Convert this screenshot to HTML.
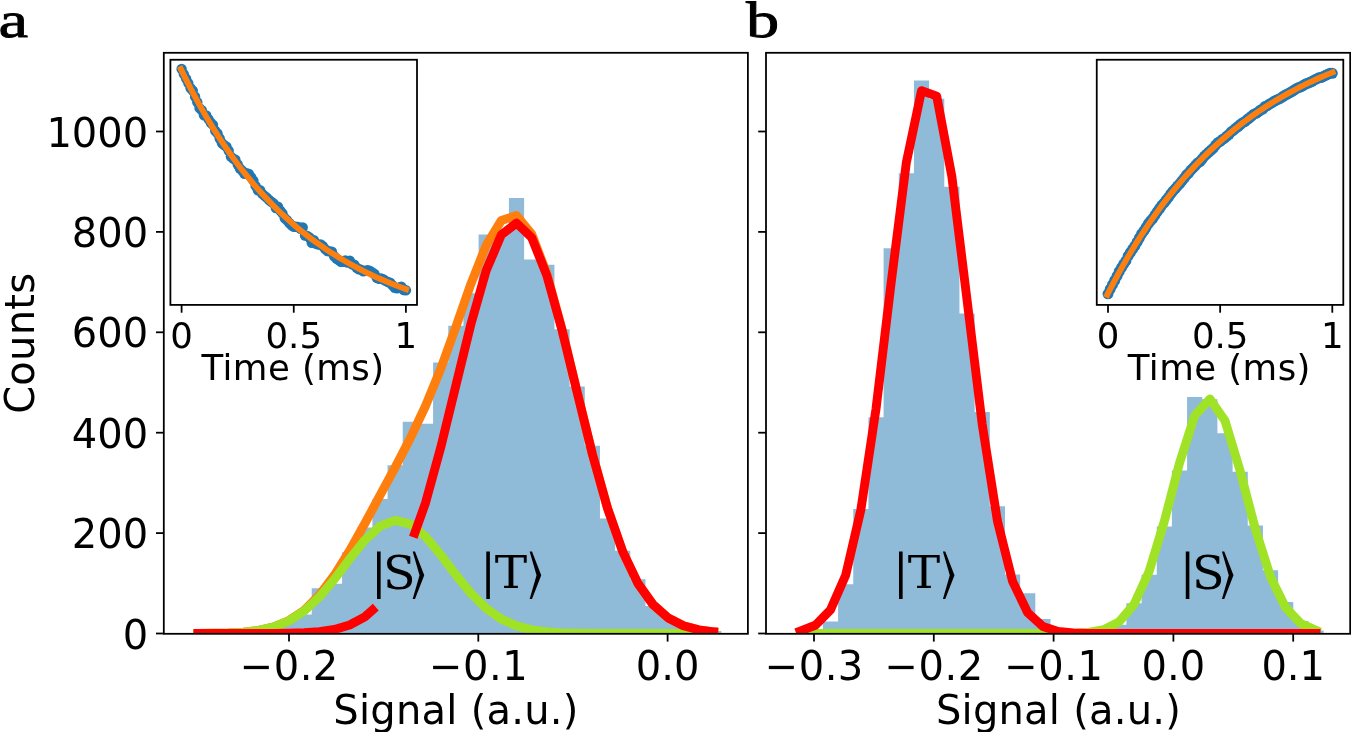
<!DOCTYPE html>
<html lang="en"><head><meta charset="utf-8"><title>Singlet-triplet readout histograms</title>
<style>html,body{margin:0;padding:0;background:#fff;}body{width:1351px;height:732px;overflow:hidden;}svg{display:block;position:absolute;left:0;top:0;will-change:transform;}text{font-family:"DejaVu Sans","Liberation Sans",sans-serif;fill:#000;}.t40{font-size:40px;}.t36{font-size:35.56px;}.ser{font-family:"Liberation Serif","DejaVu Serif",serif;}</style></head><body>
<svg width="1351" height="732" viewBox="0 0 1351 732">
<rect x="0" y="0" width="1351" height="732" fill="#ffffff"/>
<defs>
<clipPath id="ca"><rect x="163.80" y="52.80" width="584.10" height="581.00"/></clipPath>
<clipPath id="cb"><rect x="766.00" y="52.80" width="584.20" height="581.00"/></clipPath>
<clipPath id="cia"><rect x="170.40" y="59.75" width="246.60" height="245.15"/></clipPath>
<clipPath id="cib"><rect x="1096.75" y="59.75" width="246.55" height="245.15"/></clipPath>
</defs>
<g clip-path="url(#ca)">
<path d="M190.35 634.50 L190.35 633.50 L205.52 633.50 L205.52 632.50 L220.69 632.50 L220.69 631.99 L235.86 631.99 L235.86 630.99 L251.03 630.99 L251.03 628.98 L266.20 628.98 L266.20 625.47 L281.38 625.47 L281.38 619.44 L296.55 619.44 L296.55 614.42 L311.72 614.42 L311.72 588.32 L326.89 588.32 L326.89 583.80 L342.06 583.80 L342.06 552.18 L357.23 552.18 L357.23 527.58 L372.40 527.58 L372.40 498.96 L387.57 498.96 L387.57 465.33 L402.74 465.33 L402.74 421.66 L417.91 421.66 L417.91 423.66 L433.09 423.66 L433.09 362.42 L448.26 362.42 L448.26 325.77 L463.43 325.77 L463.43 293.14 L478.60 293.14 L478.60 234.41 L493.77 234.41 L493.77 231.90 L508.94 231.90 L508.94 198.01 L524.11 198.01 L524.11 259.51 L539.28 259.51 L539.28 264.78 L554.45 264.78 L554.45 329.29 L569.62 329.29 L569.62 386.52 L584.80 386.52 L584.80 445.75 L599.97 445.75 L599.97 518.54 L615.14 518.54 L615.14 550.67 L630.31 550.67 L630.31 579.28 L645.48 579.28 L645.48 605.89 L660.65 605.89 L660.65 616.43 L675.82 616.43 L675.82 624.46 L690.99 624.46 L690.99 628.98 L706.16 628.98 L706.16 630.99 L721.34 630.99 L721.34 634.50 Z" fill="#8fbbd9"/>
<path d="M193.49 633.47 L197.94 633.43 L213.11 633.30 L228.28 632.96 L243.45 632.14 L258.62 630.37 L273.79 626.86 L288.96 620.56 L304.13 610.32 L319.30 595.21 L334.47 575.04 L349.65 550.60 L364.82 523.50 L379.99 495.46 L395.16 467.28 L410.33 438.15 L425.50 406.01 L440.67 368.94 L455.84 326.99 L471.01 283.59 L486.18 245.37 L501.36 220.42 L516.53 215.56 L531.70 233.97 L546.87 273.94 L562.04 329.51 L577.21 392.32 L592.38 454.05 L607.55 508.32 L622.72 551.65 L637.89 583.33 L653.07 604.68 L668.24 617.98 L683.41 625.67 L698.58 629.80 L713.75 631.86 L718.16 632.46" fill="none" stroke="#ff7f0e" stroke-width="8.9" stroke-linejoin="round" stroke-linecap="butt"/>
<path d="M193.49 633.47 L197.94 633.43 L213.11 633.30 L228.28 632.96 L243.45 632.16 L258.62 630.41 L273.79 626.97 L288.96 620.86 L304.13 611.07 L319.30 597.01 L334.47 579.07 L349.65 559.06 L364.82 540.15 L379.99 526.17 L395.16 520.36 L410.33 524.14 L425.50 536.58 L440.67 554.75 L455.84 574.83 L471.01 593.42 L486.18 608.40 L501.36 619.08 L516.53 625.91 L531.70 629.84 L546.87 631.88 L562.04 632.84 L577.21 633.26 L592.38 633.42 L607.55 633.47 L622.72 633.49 L637.89 633.50 L653.07 633.50 L668.24 633.50 L683.41 633.50 L698.58 633.50 L713.75 633.50 L718.20 633.50" fill="none" stroke="#9fe226" stroke-width="8.9" stroke-linejoin="round" stroke-linecap="butt"/>
<path d="M193.49 633.50 L197.94 633.50 L213.11 633.50 L228.28 633.50 L243.45 633.49 L258.62 633.46 L273.79 633.39 L288.96 633.20 L304.13 632.75 L319.30 631.70 L334.47 629.47 L349.65 625.04 L364.82 616.85 L375.80 607.20" fill="none" stroke="#ff0000" stroke-width="8.9" stroke-linejoin="round" stroke-linecap="butt"/>
<path d="M413.30 537.30 L425.50 502.93 L440.67 447.69 L455.84 385.66 L471.01 323.67 L486.18 270.48 L501.36 234.83 L516.53 223.15 L531.70 237.64 L546.87 275.56 L562.04 330.17 L577.21 392.57 L592.38 454.13 L607.55 508.35 L622.72 551.65 L637.89 583.33 L653.07 604.68 L668.24 617.98 L683.41 625.67 L698.58 629.80 L713.75 631.86 L718.20 631.86" fill="none" stroke="#ff0000" stroke-width="8.9" stroke-linejoin="round" stroke-linecap="butt"/>
</g>
<g clip-path="url(#cb)">
<path d="M792.55 634.50 L792.55 633.50 L807.72 633.50 L807.72 629.48 L822.90 629.48 L822.90 621.45 L838.07 621.45 L838.07 584.30 L853.25 584.30 L853.25 509.00 L868.42 509.00 L868.42 417.14 L883.59 417.14 L883.59 248.21 L898.77 248.21 L898.77 173.17 L913.94 173.17 L913.94 80.50 L929.12 80.50 L929.12 98.87 L944.29 98.87 L944.29 186.72 L959.46 186.72 L959.46 313.42 L974.64 313.42 L974.64 412.12 L989.81 412.12 L989.81 506.19 L1004.99 506.19 L1004.99 574.51 L1020.16 574.51 L1020.16 593.34 L1035.33 593.34 L1035.33 618.94 L1050.51 618.94 L1050.51 628.98 L1065.68 628.98 L1065.68 631.99 L1080.86 631.99 L1080.86 632.50 L1096.03 632.50 L1096.03 630.49 L1111.20 630.49 L1111.20 624.72 L1126.38 624.72 L1126.38 603.13 L1141.55 603.13 L1141.55 574.77 L1156.73 574.77 L1156.73 526.57 L1171.90 526.57 L1171.90 470.60 L1187.07 470.60 L1187.07 397.06 L1202.25 397.06 L1202.25 399.32 L1217.42 399.32 L1217.42 433.20 L1232.60 433.20 L1232.60 471.86 L1247.77 471.86 L1247.77 525.57 L1262.94 525.57 L1262.94 570.25 L1278.12 570.25 L1278.12 602.12 L1293.29 602.12 L1293.29 620.95 L1308.47 620.95 L1308.47 630.49 L1323.64 630.49 L1323.64 634.50 Z" fill="#8fbbd9"/>
<path d="M795.69 633.50 L800.14 633.50 L815.31 633.50 L830.48 633.50 L845.66 633.50 L860.83 633.50 L876.01 633.50 L891.18 633.50 L906.35 633.50 L921.53 633.50 L936.70 633.50 L951.88 633.50 L967.05 633.50 L982.22 633.50 L997.40 633.50 L1012.57 633.50 L1027.75 633.50 L1042.92 633.49 L1058.10 633.45 L1073.27 633.25 L1088.44 632.45 L1103.62 629.72 L1118.79 622.09 L1133.96 604.48 L1149.14 571.34 L1164.31 521.38 L1179.49 463.21 L1194.66 415.69 L1209.84 398.91 L1225.01 420.74 L1240.18 471.01 L1255.36 529.00 L1270.53 576.91 L1285.70 607.69 L1300.88 623.59 L1316.05 630.30 L1320.12 632.09" fill="none" stroke="#9fe226" stroke-width="8.9" stroke-linejoin="round" stroke-linecap="butt"/>
<path d="M795.98 632.62 L800.14 631.04 L815.31 625.27 L830.48 609.87 L845.66 575.21 L860.83 510.02 L876.01 408.86 L891.18 282.49 L906.35 162.46 L921.53 90.61 L936.70 96.11 L951.88 176.64 L967.05 299.93 L982.22 424.32 L997.40 520.84 L1012.57 581.39 L1027.75 612.80 L1042.92 626.44 L1058.10 631.43 L1073.27 632.98 L1088.44 633.39 L1103.62 633.48 L1118.79 633.50 L1133.96 633.50 L1149.14 633.50 L1164.31 633.50 L1179.49 633.50 L1194.66 633.50 L1209.84 633.50 L1225.01 633.50 L1240.18 633.50 L1255.36 633.50 L1270.53 633.50 L1285.70 633.50 L1300.88 633.50 L1316.05 633.50 L1320.50 633.50" fill="none" stroke="#ff0000" stroke-width="8.9" stroke-linejoin="round" stroke-linecap="butt"/>
</g>
<rect x="170.40" y="59.75" width="246.60" height="245.15" fill="#fff"/>
<g clip-path="url(#cia)">
<g fill="#1f77b4"><circle cx="181.6" cy="69.0" r="5.2"/><circle cx="183.8" cy="74.1" r="5.2"/><circle cx="186.1" cy="78.6" r="5.2"/><circle cx="188.3" cy="83.1" r="5.2"/><circle cx="190.6" cy="88.3" r="5.2"/><circle cx="192.8" cy="90.6" r="5.2"/><circle cx="195.1" cy="96.7" r="5.2"/><circle cx="197.3" cy="102.2" r="5.2"/><circle cx="199.5" cy="108.1" r="5.2"/><circle cx="201.8" cy="110.2" r="5.2"/><circle cx="204.0" cy="115.3" r="5.2"/><circle cx="206.3" cy="115.4" r="5.2"/><circle cx="208.5" cy="119.1" r="5.2"/><circle cx="210.8" cy="122.7" r="5.2"/><circle cx="213.0" cy="124.9" r="5.2"/><circle cx="215.2" cy="130.7" r="5.2"/><circle cx="217.5" cy="133.4" r="5.2"/><circle cx="219.7" cy="138.5" r="5.2"/><circle cx="222.0" cy="143.3" r="5.2"/><circle cx="224.2" cy="145.1" r="5.2"/><circle cx="226.5" cy="146.7" r="5.2"/><circle cx="228.7" cy="150.7" r="5.2"/><circle cx="230.9" cy="156.6" r="5.2"/><circle cx="233.2" cy="158.6" r="5.2"/><circle cx="235.4" cy="159.7" r="5.2"/><circle cx="237.7" cy="164.5" r="5.2"/><circle cx="239.9" cy="168.5" r="5.2"/><circle cx="242.2" cy="170.6" r="5.2"/><circle cx="244.4" cy="173.8" r="5.2"/><circle cx="246.6" cy="173.1" r="5.2"/><circle cx="248.9" cy="173.9" r="5.2"/><circle cx="251.1" cy="177.1" r="5.2"/><circle cx="253.4" cy="180.6" r="5.2"/><circle cx="255.6" cy="185.9" r="5.2"/><circle cx="257.9" cy="190.2" r="5.2"/><circle cx="260.1" cy="190.3" r="5.2"/><circle cx="262.3" cy="193.9" r="5.2"/><circle cx="264.6" cy="195.9" r="5.2"/><circle cx="266.8" cy="197.6" r="5.2"/><circle cx="269.1" cy="200.0" r="5.2"/><circle cx="271.3" cy="201.8" r="5.2"/><circle cx="273.6" cy="203.4" r="5.2"/><circle cx="275.8" cy="208.1" r="5.2"/><circle cx="278.0" cy="206.7" r="5.2"/><circle cx="280.3" cy="210.6" r="5.2"/><circle cx="282.5" cy="213.4" r="5.2"/><circle cx="284.8" cy="218.3" r="5.2"/><circle cx="287.0" cy="220.2" r="5.2"/><circle cx="289.3" cy="223.0" r="5.2"/><circle cx="291.5" cy="225.3" r="5.2"/><circle cx="293.8" cy="226.8" r="5.2"/><circle cx="296.0" cy="226.7" r="5.2"/><circle cx="298.2" cy="226.9" r="5.2"/><circle cx="300.5" cy="228.8" r="5.2"/><circle cx="302.7" cy="227.5" r="5.2"/><circle cx="305.0" cy="235.5" r="5.2"/><circle cx="307.2" cy="235.9" r="5.2"/><circle cx="309.5" cy="237.5" r="5.2"/><circle cx="311.7" cy="242.7" r="5.2"/><circle cx="313.9" cy="240.3" r="5.2"/><circle cx="316.2" cy="243.7" r="5.2"/><circle cx="318.4" cy="244.6" r="5.2"/><circle cx="320.7" cy="244.4" r="5.2"/><circle cx="322.9" cy="246.3" r="5.2"/><circle cx="325.2" cy="249.1" r="5.2"/><circle cx="327.4" cy="251.0" r="5.2"/><circle cx="329.6" cy="251.4" r="5.2"/><circle cx="331.9" cy="251.6" r="5.2"/><circle cx="334.1" cy="256.2" r="5.2"/><circle cx="336.4" cy="258.5" r="5.2"/><circle cx="338.6" cy="260.1" r="5.2"/><circle cx="340.9" cy="261.7" r="5.2"/><circle cx="343.1" cy="261.8" r="5.2"/><circle cx="345.3" cy="260.4" r="5.2"/><circle cx="347.6" cy="262.6" r="5.2"/><circle cx="349.8" cy="260.7" r="5.2"/><circle cx="352.1" cy="264.3" r="5.2"/><circle cx="354.3" cy="264.8" r="5.2"/><circle cx="356.6" cy="267.7" r="5.2"/><circle cx="358.8" cy="269.2" r="5.2"/><circle cx="361.0" cy="269.6" r="5.2"/><circle cx="363.3" cy="271.3" r="5.2"/><circle cx="365.5" cy="270.7" r="5.2"/><circle cx="367.8" cy="270.1" r="5.2"/><circle cx="370.0" cy="270.9" r="5.2"/><circle cx="372.3" cy="272.4" r="5.2"/><circle cx="374.5" cy="274.0" r="5.2"/><circle cx="376.7" cy="277.8" r="5.2"/><circle cx="379.0" cy="278.7" r="5.2"/><circle cx="381.2" cy="278.4" r="5.2"/><circle cx="383.5" cy="279.5" r="5.2"/><circle cx="385.7" cy="280.9" r="5.2"/><circle cx="388.0" cy="282.1" r="5.2"/><circle cx="390.2" cy="282.7" r="5.2"/><circle cx="392.4" cy="285.3" r="5.2"/><circle cx="394.7" cy="287.7" r="5.2"/><circle cx="396.9" cy="288.4" r="5.2"/><circle cx="399.2" cy="287.4" r="5.2"/><circle cx="401.4" cy="286.8" r="5.2"/><circle cx="403.7" cy="290.0" r="5.2"/><circle cx="405.9" cy="290.2" r="5.2"/></g>
<path d="M179.58 66.36 L183.47 74.36 L187.35 82.13 L191.24 89.66 L195.12 96.97 L199.01 104.07 L202.89 110.95 L206.78 117.63 L210.66 124.11 L214.55 130.39 L218.43 136.49 L222.32 142.41 L226.21 148.15 L230.09 153.72 L233.98 159.13 L237.86 164.37 L241.75 169.46 L245.63 174.40 L249.52 179.19 L253.40 183.84 L257.29 188.35 L261.17 192.72 L265.06 196.97 L268.94 201.09 L272.83 205.09 L276.71 208.96 L280.60 212.73 L284.49 216.38 L288.37 219.92 L292.26 223.36 L296.14 226.69 L300.03 229.93 L303.91 233.07 L307.80 236.11 L311.68 239.07 L315.57 241.94 L319.45 244.72 L323.34 247.42 L327.22 250.04 L331.11 252.58 L334.99 255.05 L338.88 257.44 L342.77 259.76 L346.65 262.01 L350.54 264.20 L354.42 266.32 L358.31 268.38 L362.19 270.37 L366.08 272.31 L369.96 274.19 L373.85 276.01 L377.73 277.78 L381.62 279.50 L385.50 281.16 L389.39 282.78 L393.27 284.35 L397.16 285.87 L401.05 287.34 L404.93 288.78 L408.82 290.17" fill="none" stroke="#ff7f0e" stroke-width="5.8" stroke-linejoin="round" stroke-linecap="butt"/>
</g>
<rect x="170.40" y="59.75" width="246.60" height="245.15" fill="none" stroke="#000" stroke-width="1.78"/>
<line x1="181.60" y1="304.90" x2="181.60" y2="312.70" stroke="#000" stroke-width="1.78"/>
<text class="t36" x="181.60" y="347.8" text-anchor="middle">0</text>
<line x1="293.75" y1="304.90" x2="293.75" y2="312.70" stroke="#000" stroke-width="1.78"/>
<text class="t36" x="293.75" y="347.8" text-anchor="middle">0.5</text>
<line x1="405.90" y1="304.90" x2="405.90" y2="312.70" stroke="#000" stroke-width="1.78"/>
<text class="t36" x="405.90" y="347.8" text-anchor="middle">1</text>
<text class="t36" x="292.80" y="379.9" text-anchor="middle" textLength="182.7" lengthAdjust="spacing">Time (ms)</text>
<rect x="1096.75" y="59.75" width="246.55" height="245.15" fill="#fff"/>
<g clip-path="url(#cib)">
<g fill="#1f77b4"><circle cx="1108.0" cy="293.8" r="5.5"/><circle cx="1110.2" cy="289.2" r="5.5"/><circle cx="1112.5" cy="284.7" r="5.5"/><circle cx="1114.7" cy="280.5" r="5.5"/><circle cx="1117.0" cy="276.2" r="5.5"/><circle cx="1119.2" cy="271.5" r="5.5"/><circle cx="1121.5" cy="267.7" r="5.5"/><circle cx="1123.7" cy="264.1" r="5.5"/><circle cx="1125.9" cy="260.9" r="5.5"/><circle cx="1128.2" cy="255.9" r="5.5"/><circle cx="1130.4" cy="252.4" r="5.5"/><circle cx="1132.7" cy="249.1" r="5.5"/><circle cx="1134.9" cy="245.9" r="5.5"/><circle cx="1137.2" cy="241.9" r="5.5"/><circle cx="1139.4" cy="238.0" r="5.5"/><circle cx="1141.6" cy="234.0" r="5.5"/><circle cx="1143.9" cy="230.9" r="5.5"/><circle cx="1146.1" cy="227.3" r="5.5"/><circle cx="1148.4" cy="223.6" r="5.5"/><circle cx="1150.6" cy="220.8" r="5.5"/><circle cx="1152.9" cy="218.3" r="5.5"/><circle cx="1155.1" cy="215.0" r="5.5"/><circle cx="1157.3" cy="211.6" r="5.5"/><circle cx="1159.6" cy="208.5" r="5.5"/><circle cx="1161.8" cy="205.3" r="5.5"/><circle cx="1164.1" cy="202.9" r="5.5"/><circle cx="1166.3" cy="200.0" r="5.5"/><circle cx="1168.6" cy="197.2" r="5.5"/><circle cx="1170.8" cy="193.9" r="5.5"/><circle cx="1173.0" cy="191.2" r="5.5"/><circle cx="1175.3" cy="188.7" r="5.5"/><circle cx="1177.5" cy="186.1" r="5.5"/><circle cx="1179.8" cy="183.6" r="5.5"/><circle cx="1182.0" cy="180.8" r="5.5"/><circle cx="1184.3" cy="178.1" r="5.5"/><circle cx="1186.5" cy="175.0" r="5.5"/><circle cx="1188.7" cy="173.0" r="5.5"/><circle cx="1191.0" cy="170.1" r="5.5"/><circle cx="1193.2" cy="167.8" r="5.5"/><circle cx="1195.5" cy="165.3" r="5.5"/><circle cx="1197.7" cy="163.0" r="5.5"/><circle cx="1200.0" cy="161.5" r="5.5"/><circle cx="1202.2" cy="159.0" r="5.5"/><circle cx="1204.4" cy="156.2" r="5.5"/><circle cx="1206.7" cy="154.1" r="5.5"/><circle cx="1208.9" cy="152.0" r="5.5"/><circle cx="1211.2" cy="150.0" r="5.5"/><circle cx="1213.4" cy="148.1" r="5.5"/><circle cx="1215.7" cy="145.1" r="5.5"/><circle cx="1217.9" cy="142.7" r="5.5"/><circle cx="1220.2" cy="141.4" r="5.5"/><circle cx="1222.4" cy="139.4" r="5.5"/><circle cx="1224.6" cy="138.2" r="5.5"/><circle cx="1226.9" cy="136.1" r="5.5"/><circle cx="1229.1" cy="134.3" r="5.5"/><circle cx="1231.4" cy="131.7" r="5.5"/><circle cx="1233.6" cy="130.2" r="5.5"/><circle cx="1235.9" cy="128.1" r="5.5"/><circle cx="1238.1" cy="126.5" r="5.5"/><circle cx="1240.3" cy="124.5" r="5.5"/><circle cx="1242.6" cy="122.7" r="5.5"/><circle cx="1244.8" cy="121.7" r="5.5"/><circle cx="1247.1" cy="119.6" r="5.5"/><circle cx="1249.3" cy="118.0" r="5.5"/><circle cx="1251.6" cy="116.1" r="5.5"/><circle cx="1253.8" cy="114.2" r="5.5"/><circle cx="1256.0" cy="113.3" r="5.5"/><circle cx="1258.3" cy="111.9" r="5.5"/><circle cx="1260.5" cy="110.1" r="5.5"/><circle cx="1262.8" cy="109.0" r="5.5"/><circle cx="1265.0" cy="106.5" r="5.5"/><circle cx="1267.3" cy="105.7" r="5.5"/><circle cx="1269.5" cy="104.1" r="5.5"/><circle cx="1271.7" cy="102.9" r="5.5"/><circle cx="1274.0" cy="101.3" r="5.5"/><circle cx="1276.2" cy="100.2" r="5.5"/><circle cx="1278.5" cy="99.2" r="5.5"/><circle cx="1280.7" cy="98.2" r="5.5"/><circle cx="1283.0" cy="96.5" r="5.5"/><circle cx="1285.2" cy="95.1" r="5.5"/><circle cx="1287.4" cy="94.1" r="5.5"/><circle cx="1289.7" cy="92.8" r="5.5"/><circle cx="1291.9" cy="91.6" r="5.5"/><circle cx="1294.2" cy="90.0" r="5.5"/><circle cx="1296.4" cy="88.7" r="5.5"/><circle cx="1298.7" cy="87.5" r="5.5"/><circle cx="1300.9" cy="86.8" r="5.5"/><circle cx="1303.1" cy="85.6" r="5.5"/><circle cx="1305.4" cy="84.1" r="5.5"/><circle cx="1307.6" cy="83.3" r="5.5"/><circle cx="1309.9" cy="82.3" r="5.5"/><circle cx="1312.1" cy="81.3" r="5.5"/><circle cx="1314.4" cy="79.9" r="5.5"/><circle cx="1316.6" cy="78.9" r="5.5"/><circle cx="1318.8" cy="77.8" r="5.5"/><circle cx="1321.1" cy="77.5" r="5.5"/><circle cx="1323.3" cy="76.4" r="5.5"/><circle cx="1325.6" cy="75.3" r="5.5"/><circle cx="1327.8" cy="74.2" r="5.5"/><circle cx="1330.1" cy="73.2" r="5.5"/><circle cx="1332.3" cy="73.3" r="5.5"/></g>
<path d="M1105.98 297.40 L1109.87 289.77 L1113.75 282.36 L1117.64 275.14 L1121.52 268.12 L1125.41 261.29 L1129.29 254.64 L1133.18 248.17 L1137.06 241.88 L1140.95 235.75 L1144.83 229.80 L1148.72 224.00 L1152.61 218.36 L1156.49 212.87 L1160.38 207.53 L1164.26 202.33 L1168.15 197.28 L1172.03 192.36 L1175.92 187.57 L1179.80 182.92 L1183.69 178.39 L1187.57 173.98 L1191.46 169.69 L1195.34 165.52 L1199.23 161.45 L1203.11 157.50 L1207.00 153.66 L1210.89 149.92 L1214.77 146.28 L1218.66 142.74 L1222.54 139.29 L1226.43 135.94 L1230.31 132.68 L1234.20 129.50 L1238.08 126.42 L1241.97 123.41 L1245.85 120.49 L1249.74 117.64 L1253.62 114.88 L1257.51 112.18 L1261.39 109.56 L1265.28 107.01 L1269.17 104.53 L1273.05 102.12 L1276.94 99.77 L1280.82 97.48 L1284.71 95.26 L1288.59 93.10 L1292.48 90.99 L1296.36 88.95 L1300.25 86.95 L1304.13 85.01 L1308.02 83.13 L1311.90 81.29 L1315.79 79.51 L1319.67 77.77 L1323.56 76.08 L1327.45 74.43 L1331.33 72.83 L1335.22 71.27" fill="none" stroke="#ff7f0e" stroke-width="5.8" stroke-linejoin="round" stroke-linecap="butt"/>
</g>
<rect x="1096.75" y="59.75" width="246.55" height="245.15" fill="none" stroke="#000" stroke-width="1.78"/>
<line x1="1108.00" y1="304.90" x2="1108.00" y2="312.70" stroke="#000" stroke-width="1.78"/>
<text class="t36" x="1108.00" y="347.8" text-anchor="middle">0</text>
<line x1="1220.15" y1="304.90" x2="1220.15" y2="312.70" stroke="#000" stroke-width="1.78"/>
<text class="t36" x="1220.15" y="347.8" text-anchor="middle">0.5</text>
<line x1="1332.30" y1="304.90" x2="1332.30" y2="312.70" stroke="#000" stroke-width="1.78"/>
<text class="t36" x="1332.30" y="347.8" text-anchor="middle">1</text>
<text class="t36" x="1219.12" y="379.9" text-anchor="middle" textLength="182.7" lengthAdjust="spacing">Time (ms)</text>
<rect x="163.80" y="52.80" width="584.10" height="581.00" fill="none" stroke="#000" stroke-width="1.78"/>
<rect x="766.00" y="52.80" width="584.20" height="581.00" fill="none" stroke="#000" stroke-width="1.78"/>
<line x1="289.00" y1="633.80" x2="289.00" y2="641.60" stroke="#000" stroke-width="1.78"/>
<text class="t40" x="289.00" y="679.7" text-anchor="middle" textLength="98.6" lengthAdjust="spacing">−0.2</text>
<line x1="478.30" y1="633.80" x2="478.30" y2="641.60" stroke="#000" stroke-width="1.78"/>
<text class="t40" x="478.30" y="679.7" text-anchor="middle" textLength="98.6" lengthAdjust="spacing">−0.1</text>
<line x1="667.60" y1="633.80" x2="667.60" y2="641.60" stroke="#000" stroke-width="1.78"/>
<text class="t40" x="667.60" y="679.7" text-anchor="middle">0.0</text>
<line x1="814.00" y1="633.80" x2="814.00" y2="641.60" stroke="#000" stroke-width="1.78"/>
<text class="t40" x="814.00" y="679.7" text-anchor="middle" textLength="98.6" lengthAdjust="spacing">−0.3</text>
<line x1="933.80" y1="633.80" x2="933.80" y2="641.60" stroke="#000" stroke-width="1.78"/>
<text class="t40" x="933.80" y="679.7" text-anchor="middle" textLength="98.6" lengthAdjust="spacing">−0.2</text>
<line x1="1053.60" y1="633.80" x2="1053.60" y2="641.60" stroke="#000" stroke-width="1.78"/>
<text class="t40" x="1053.60" y="679.7" text-anchor="middle" textLength="98.6" lengthAdjust="spacing">−0.1</text>
<line x1="1173.40" y1="633.80" x2="1173.40" y2="641.60" stroke="#000" stroke-width="1.78"/>
<text class="t40" x="1173.40" y="679.7" text-anchor="middle">0.0</text>
<line x1="1293.20" y1="633.80" x2="1293.20" y2="641.60" stroke="#000" stroke-width="1.78"/>
<text class="t40" x="1293.20" y="679.7" text-anchor="middle">0.1</text>
<line x1="156.00" y1="633.50" x2="163.80" y2="633.50" stroke="#000" stroke-width="1.78"/>
<line x1="758.20" y1="633.50" x2="766.00" y2="633.50" stroke="#000" stroke-width="1.78"/>
<text class="t40" x="148.2" y="648.50" text-anchor="end">0</text>
<line x1="156.00" y1="533.10" x2="163.80" y2="533.10" stroke="#000" stroke-width="1.78"/>
<line x1="758.20" y1="533.10" x2="766.00" y2="533.10" stroke="#000" stroke-width="1.78"/>
<text class="t40" x="148.2" y="548.10" text-anchor="end">200</text>
<line x1="156.00" y1="432.70" x2="163.80" y2="432.70" stroke="#000" stroke-width="1.78"/>
<line x1="758.20" y1="432.70" x2="766.00" y2="432.70" stroke="#000" stroke-width="1.78"/>
<text class="t40" x="148.2" y="447.70" text-anchor="end">400</text>
<line x1="156.00" y1="332.30" x2="163.80" y2="332.30" stroke="#000" stroke-width="1.78"/>
<line x1="758.20" y1="332.30" x2="766.00" y2="332.30" stroke="#000" stroke-width="1.78"/>
<text class="t40" x="148.2" y="347.30" text-anchor="end">600</text>
<line x1="156.00" y1="231.90" x2="163.80" y2="231.90" stroke="#000" stroke-width="1.78"/>
<line x1="758.20" y1="231.90" x2="766.00" y2="231.90" stroke="#000" stroke-width="1.78"/>
<text class="t40" x="148.2" y="246.90" text-anchor="end">800</text>
<line x1="156.00" y1="131.50" x2="163.80" y2="131.50" stroke="#000" stroke-width="1.78"/>
<line x1="758.20" y1="131.50" x2="766.00" y2="131.50" stroke="#000" stroke-width="1.78"/>
<text class="t40" x="148.2" y="146.50" text-anchor="end">1000</text>
<text class="t40" x="455.85" y="724.0" text-anchor="middle" textLength="245" lengthAdjust="spacing">Signal (a.u.)</text>
<text class="t40" x="1058.40" y="724.0" text-anchor="middle" textLength="245" lengthAdjust="spacing">Signal (a.u.)</text>
<text class="t40" transform="translate(34.2,343.4) rotate(-90)" text-anchor="middle" textLength="140.8" lengthAdjust="spacing">Counts</text>
<text class="ser" x="-1.6" y="36.8" font-size="51.5" textLength="29.6" lengthAdjust="spacingAndGlyphs" stroke="#000" stroke-width="0.8">a</text>
<text class="ser" x="746.0" y="36.8" font-size="51.5" textLength="33.2" lengthAdjust="spacingAndGlyphs" stroke="#000" stroke-width="0.8">b</text>
<text style='font-family:"DejaVu Math TeX Gyre","Liberation Serif","DejaVu Serif",serif;'><tspan font-size="56.5" x="372.38" y="591.4">|</tspan><tspan font-size="47.5" x="383.00" y="589.3">S</tspan><tspan font-size="56.5" x="410.40" y="591.4" textLength="17" lengthAdjust="spacingAndGlyphs">⟩</tspan></text>
<text style='font-family:"DejaVu Math TeX Gyre","Liberation Serif","DejaVu Serif",serif;'><tspan font-size="56.5" x="481.68" y="591.4">|</tspan><tspan font-size="44.4" x="494.70" y="588.2" textLength="32.4" lengthAdjust="spacingAndGlyphs">T</tspan><tspan font-size="56.5" x="527.40" y="591.4" textLength="17" lengthAdjust="spacingAndGlyphs">⟩</tspan></text>
<text style='font-family:"DejaVu Math TeX Gyre","Liberation Serif","DejaVu Serif",serif;'><tspan font-size="56.5" x="894.38" y="591.4">|</tspan><tspan font-size="44.4" x="907.80" y="588.2" textLength="32.4" lengthAdjust="spacingAndGlyphs">T</tspan><tspan font-size="56.5" x="940.70" y="591.4" textLength="17" lengthAdjust="spacingAndGlyphs">⟩</tspan></text>
<text style='font-family:"DejaVu Math TeX Gyre","Liberation Serif","DejaVu Serif",serif;'><tspan font-size="56.5" x="1181.28" y="591.4">|</tspan><tspan font-size="47.5" x="1192.00" y="589.3">S</tspan><tspan font-size="56.5" x="1219.70" y="591.4" textLength="17" lengthAdjust="spacingAndGlyphs">⟩</tspan></text>
</svg></body></html>
